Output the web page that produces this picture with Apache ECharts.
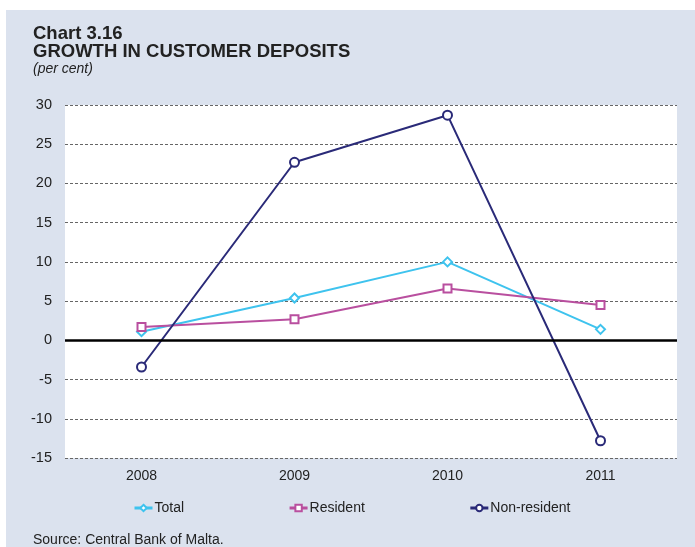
<!DOCTYPE html>
<html>
<head>
<meta charset="utf-8">
<script src="https://cdn.jsdelivr.net/npm/echarts@6/dist/echarts.min.js"></script>
<style>
  html, body { margin: 0; padding: 0; background: #fff; }
  #chart { width: 695px; height: 547px; }
</style>
</head>
<body>
<div id="chart"></div>
<script>
const years = ['2008', '2009', '2010', '2011'];
const total = [1.1, 5.4, 10.0, 1.4];
const resident = [1.7, 2.7, 6.6, 4.5];
const nonResident = [-3.4, 22.7, 28.7, -12.8];

const font = '"Liberation Sans", Arial, sans-serif';

function lineSeries(name, data, color, symbol, size) {
  return {
    name: name,
    type: 'line',
    data: data,
    symbol: symbol,
    symbolSize: size,
    showAllSymbol: true,
    lineStyle: {color: color, width: 2},
    itemStyle: {color: '#fff', borderColor: color, borderWidth: 2},
    emphasis: {disabled: true},
    z: 3
  };
}

const chart = echarts.init(document.getElementById('chart'));
chart.setOption({
  backgroundColor: '#fff',
  animation: false,
  textStyle: {fontFamily: font},
  graphic: [
    {type: 'rect', left: 6, top: 10, shape: {width: 689, height: 537}, style: {fill: '#dbe2ee'}, z: -10},
    {type: 'text', left: 33, top: 24, style: {text: 'Chart 3.16', font: 'bold 18.5px ' + font, fill: '#222'}},
    {type: 'text', left: 33, top: 42, style: {text: 'GROWTH IN CUSTOMER DEPOSITS', font: 'bold 18.5px ' + font, fill: '#222'}},
    {type: 'text', left: 33, top: 62, style: {text: '(per cent)', font: 'italic 14px ' + font, fill: '#222'}},
    {type: 'text', left: 33, top: 533, style: {text: 'Source: Central Bank of Malta.', font: '14px ' + font, fill: '#222'}}
  ],
  grid: {
    left: 65, right: 18, top: 105, bottom: 89,
    show: true, backgroundColor: '#fff', borderWidth: 0
  },
  legend: {
    left: 133, top: 501, padding: 0,
    itemWidth: 18, itemHeight: 8, itemGap: 104,
    lineStyle: {width: 3},
    textStyle: {fontSize: 14, color: '#222', fontFamily: font, padding: [0, 0, 0, -3]},
    data: ['Total', 'Resident', 'Non-resident']
  },
  xAxis: {
    type: 'category',
    data: years,
    axisLine: {show: false},
    axisTick: {show: false},
    axisLabel: {fontSize: 14, color: '#222', margin: 11}
  },
  yAxis: {
    type: 'value',
    min: -15, max: 30, interval: 5,
    axisLine: {show: false},
    axisTick: {show: false},
    axisLabel: {fontSize: 14.5, color: '#222', margin: 13},
    splitLine: {lineStyle: {color: '#666', type: [3, 2], width: 1}}
  },
  series: [
    Object.assign(lineSeries('Total', total, '#3ec3ee', 'diamond', 9), {
      markLine: {
        silent: true, symbol: 'none', label: {show: false},
        lineStyle: {color: '#000', type: 'solid', width: 2.5},
        data: [{yAxis: 0}]
      }
    }),
    lineSeries('Resident', resident, '#b94f9f', 'rect', 8),
    lineSeries('Non-resident', nonResident, '#2a2a78', 'circle', 9)
  ]
});
</script>
</body>
</html>
